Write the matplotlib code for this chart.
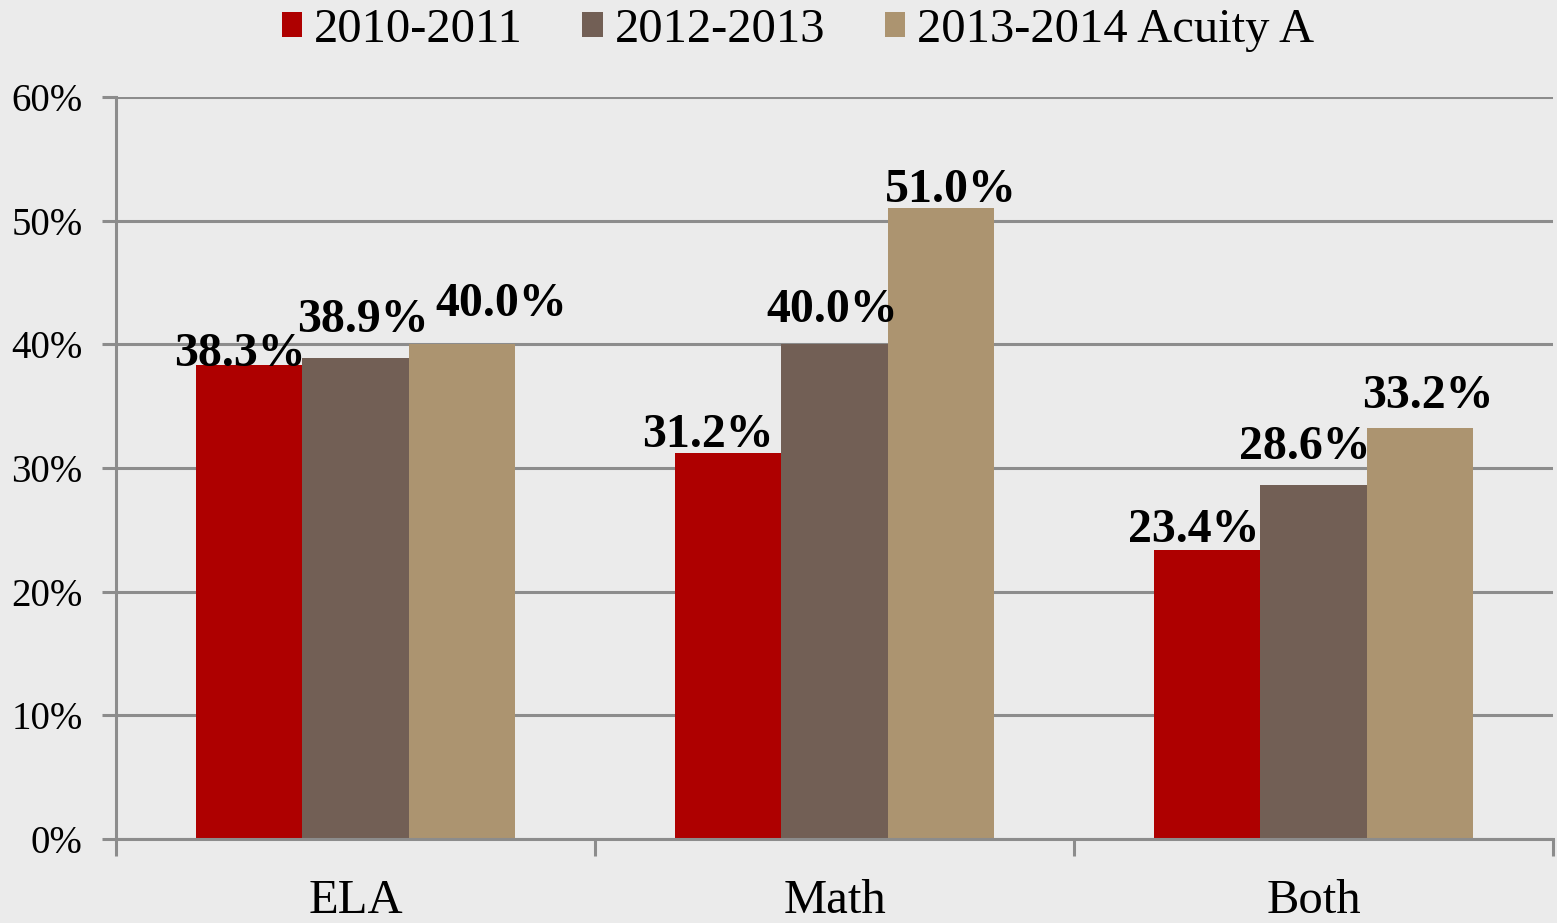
import numpy as np
import matplotlib.pyplot as plt
from matplotlib.patches import Patch

categories = ['ELA', 'Math', 'Both']
series_names = ['2010-2011', '2012-2013', '2013-2014 Acuity A']
values_2010 = [38.3, 31.2, 23.4]
values_2012 = [38.9, 40.0, 28.6]
values_2013 = [40.0, 51.0, 33.2]
y_ticks = [0, 10, 20, 30, 40, 50, 60]

colors = ['#AE0000', '#725F55', '#AC9470']
bg = '#ebebeb'

# label nudges (pixels) relative to bar top centre, one row per series
label_dx = [[-9, -20, -13], [7, -2, -9], [39, 10, 8]]
label_dy = [[-1, 6, 8], [26, 22, 26], [28, 6, 20]]

plt.rcParams['font.family'] = ['Liberation Serif', 'DejaVu Serif']

fig = plt.figure(figsize=(15.57, 9.23), dpi=100, facecolor=bg)
ax = fig.add_axes([0.0745, 0.091, 0.923, 0.804], facecolor=bg)

x = np.arange(len(categories))
w = 0.222
series = [values_2010, values_2012, values_2013]

for i, (vals, name, c) in enumerate(zip(series, series_names, colors)):
    pos = x + (i - 1) * w
    ax.bar(pos, vals, width=w, color=c, zorder=3, label=name)
    for j, (p, v) in enumerate(zip(pos, vals)):
        ax.annotate(f'{v:.1f}%', (p, v),
                    xytext=(label_dx[i][j] * 0.72, label_dy[i][j] * 0.72),
                    textcoords='offset points', ha='center', va='baseline',
                    fontsize=34.5, fontweight='bold', zorder=4)

ax.set_xlim(-0.5, 2.5)
ax.set_ylim(0, 60)
ax.set_yticks(y_ticks)
ax.set_yticklabels([f'{t}%' for t in y_ticks], fontsize=28)
ax.yaxis.grid(True, color='#8c8c8c', linewidth=2.2, zorder=0)
ax.tick_params(axis='y', length=10, width=2.2, color='#8c8c8c', pad=14)

ax.set_xticks([-0.5, 0.5, 1.5, 2.5])
ax.set_xticklabels([])
ax.set_xticks(x, minor=True)
ax.set_xticklabels(categories, minor=True, fontsize=35)
ax.tick_params(axis='x', which='major', length=12, width=2.2, color='#8c8c8c')
ax.tick_params(axis='x', which='minor', length=0, pad=29)

for s in ['top', 'right']:
    ax.spines[s].set_visible(False)
for s in ['left', 'bottom']:
    ax.spines[s].set_color('#8c8c8c')
    ax.spines[s].set_linewidth(2.2)
    ax.spines[s].set_zorder(5)

handles = [Patch(facecolor=c, label=n) for c, n in zip(colors, series_names)]
fig.legend(handles=handles, loc='center', bbox_to_anchor=(0.5125, 0.968),
           ncol=3, frameon=False, fontsize=35, handlelength=0.42, handleheight=0.42,
           handletextpad=0.25, columnspacing=1.22)

fig.savefig('out.png', dpi=100, facecolor=bg)
